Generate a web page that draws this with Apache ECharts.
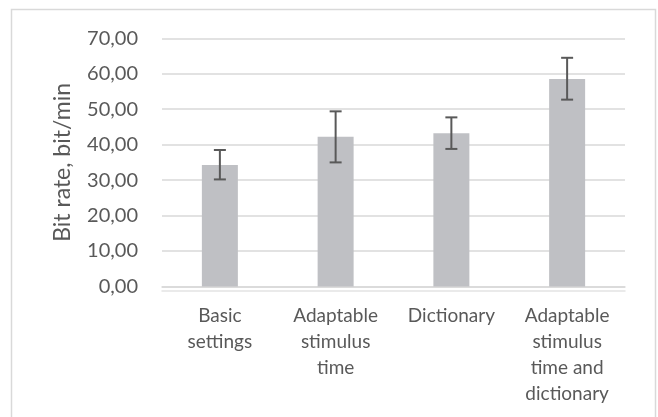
<!DOCTYPE html>
<html>
<head>
<meta charset="utf-8">
<script src="https://cdn.jsdelivr.net/npm/echarts@6/dist/echarts.min.js"></script>
<style>
  html, body { margin: 0; padding: 0; background: #fff; }
  #chart { width: 658px; height: 417px; }
</style>
</head>
<body>
<div id="chart"></div>
<script>
// data
const categories = ['Basic\nsettings', 'Adaptable\nstimulus\ntime', 'Dictionary', 'Adaptable\nstimulus\ntime and\ndictionary'];
const bitRate = [34.3, 42.2, 43.2, 58.5];
const errLow = [30.2, 35.0, 38.8, 52.7];
const errHigh = [38.5, 49.4, 47.7, 64.5];

const font = 'Lato, "Open Sans", sans-serif';
const textColor = '#595959';

const chart = echarts.init(document.getElementById('chart'));

// error bar data: [categoryIndex, low, high]
const errData = categories.map((c, i) => [i, errLow[i], errHigh[i]]);

const option = {
  animation: false,
  backgroundColor: '#fff',
  textStyle: { fontFamily: font },
  graphic: [{
    type: 'rect',
    shape: { x: 11.5, y: 9.5, width: 644, height: 420 },
    style: { fill: 'none', stroke: '#d9d9d9', lineWidth: 1.5 },
    silent: true
  }],
  grid: {
    left: 162,
    right: 33,
    top: 38.3,
    bottom: 130.5
  },
  xAxis: {
    type: 'category',
    data: categories,
    axisTick: { show: false },
    axisLine: {
      lineStyle: {
        color: '#d9d9d9', width: 1.5,
        shadowColor: '#e3e3e3', shadowOffsetY: 4, shadowBlur: 0
      }
    },
    axisLabel: {
      interval: 0,
      margin: 16,
      color: textColor,
      fontSize: 19,
      lineHeight: 26,
      fontFamily: font
    }
  },
  yAxis: {
    type: 'value',
    min: 0,
    max: 70,
    interval: 10,
    name: 'Bit rate, bit/min',
    nameLocation: 'middle',
    nameGap: 88,
    nameTextStyle: { color: textColor, fontSize: 23, fontFamily: font },
    axisLine: { show: false },
    axisTick: { show: false },
    splitLine: { lineStyle: { color: '#d9d9d9', width: 1.5 } },
    axisLabel: {
      margin: 24,
      color: textColor,
      fontSize: 20,
      fontFamily: font,
      formatter: v => v.toFixed(2).replace('.', ',')
    }
  },
  series: [
    {
      type: 'bar',
      data: bitRate,
      barWidth: 36,
      itemStyle: { color: '#bfc0c4' }
    },
    {
      type: 'custom',
      data: errData,
      z: 10,
      renderItem: function (params, api) {
        const x = api.value(0);
        const lo = api.coord([x, api.value(1)]);
        const hi = api.coord([x, api.value(2)]);
        const half = 6;
        const style = { stroke: '#595959', lineWidth: 2 };
        return {
          type: 'group',
          children: [
            { type: 'line', shape: { x1: hi[0], y1: hi[1], x2: lo[0], y2: lo[1] }, style: style },
            { type: 'line', shape: { x1: hi[0] - half, y1: hi[1], x2: hi[0] + half, y2: hi[1] }, style: style },
            { type: 'line', shape: { x1: lo[0] - half, y1: lo[1], x2: lo[0] + half, y2: lo[1] }, style: style }
          ]
        };
      }
    }
  ]
};

chart.setOption(option);
</script>
</body>
</html>
